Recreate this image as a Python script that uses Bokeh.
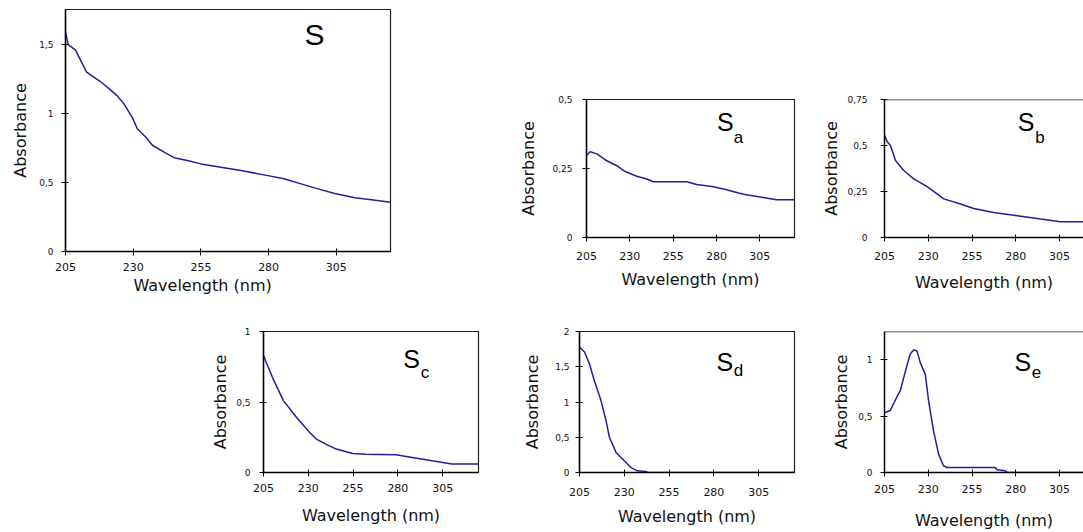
from bokeh.plotting import figure
from bokeh.layouts import row, column, Spacer
from bokeh.models import Range1d, FixedTicker, Label, Span, Title
from bokeh.embed import file_html
from bokeh.resources import INLINE

# ---------------- data ----------------
x_ticks = [205, 230, 255, 280, 305]

wl_S = [205, 206, 208.7, 212.8, 218, 221.7, 224, 226.6, 229.7, 231.5, 234.6, 237.1, 241.4,
        245.1, 250, 255, 262.4, 269.8, 279.7, 285.7, 292, 298.2, 304.4, 311.8, 318, 325]
abs_S = [1.59, 1.50, 1.46, 1.30, 1.23, 1.17, 1.13, 1.07, 0.97, 0.89, 0.83, 0.77, 0.72,
         0.68, 0.66, 0.635, 0.61, 0.587, 0.55, 0.527, 0.49, 0.454, 0.42, 0.39, 0.375, 0.357]

wl_Sa = [205, 207.1, 211, 216.7, 222.5, 227.3, 234, 239.8, 243.6, 262.8, 268.6, 278.2,
         285.8, 295.4, 306.9, 314.6, 325]
abs_Sa = [0.297, 0.311, 0.303, 0.278, 0.26, 0.239, 0.222, 0.212, 0.202, 0.202, 0.192, 0.184,
          0.173, 0.157, 0.145, 0.137, 0.137]

wl_Sb = [205, 206.5, 208.4, 211.3, 216, 221.7, 229.4, 238.9, 248.4, 256, 267.4, 280.8,
         294.2, 305.6, 314, 325]
abs_Sb = [0.555, 0.522, 0.50, 0.418, 0.364, 0.319, 0.277, 0.21, 0.182, 0.158, 0.136, 0.118,
          0.10, 0.086, 0.086, 0.086]

wl_Sc = [205, 206.9, 210.5, 216.1, 223.5, 230.8, 234.5, 240.1, 245.6, 254.8, 262.2, 278.8,
         288, 299.1, 310.2, 325]
abs_Sc = [0.83, 0.77, 0.66, 0.51, 0.39, 0.284, 0.237, 0.20, 0.166, 0.135, 0.13, 0.126,
          0.107, 0.083, 0.06, 0.06]

wl_Sd = [205, 207.8, 210.6, 213.3, 217, 219.8, 221.7, 225.4, 230, 233.7, 237.4, 242, 243, 325]
abs_Sd = [1.78, 1.71, 1.54, 1.30, 1.02, 0.735, 0.50, 0.285, 0.166, 0.07, 0.024, 0.014, 0.0, 0.0]

wl_Se = [205, 208.3, 211.1, 214, 216.8, 219.7, 221.6, 223.5, 225.4, 228.3, 230.2, 233,
         235.9, 238.7, 240.7, 268.3, 269.2, 274, 275, 325]
abs_Se = [0.53, 0.55, 0.64, 0.725, 0.89, 1.05, 1.086, 1.08, 0.976, 0.87, 0.636, 0.37,
          0.163, 0.06, 0.044, 0.044, 0.024, 0.015, 0.0, 0.0]

yticks_S = [0, 0.5, 1, 1.5];          ylabels_S = ["0", "0,5", "1", "1,5"]
yticks_Sa = [0, 0.25, 0.5];           ylabels_Sa = ["0", "0,25", "0,5"]
yticks_Sb = [0, 0.25, 0.5, 0.75];     ylabels_Sb = ["0", "0,25", "0,5", "0,75"]
yticks_Sc = [0, 0.5, 1];              ylabels_Sc = ["0", "0,5", "1"]
yticks_Sd = [0, 0.5, 1, 1.5, 2];      ylabels_Sd = ["0", "0,5", "1", "1,5", "2"]
yticks_Se = [0, 0.5, 1];              ylabels_Se = ["0", "0,5", "1"]

LINE = "#1f1f9e"
TFONT = "DejaVu Sans"
LFONT = "DejaVu Sans"
SFONT = "Liberation Sans"


def make(width, height, bl, bt, br, bb, xend, ymax, yticks, ylabels, wl, ab,
         xst, xlst, yst, ylst, cut=False, xlabel=True):
    p = figure(width=width, height=height, x_range=Range1d(205, xend),
               y_range=Range1d(0, ymax), output_backend="svg", toolbar_location=None,
               min_border_left=bl, min_border_top=bt, min_border_right=br,
               min_border_bottom=bb)
    p.grid.visible = False
    p.background_fill_color = "white"
    p.border_fill_color = "white"
    if cut:
        p.outline_line_color = None
        p.add_layout(Span(location=ymax, dimension="width", line_color="#222222",
                          line_width=1.5))
    else:
        p.outline_line_color = "#222222"
        p.outline_line_width = 1.2
    p.line(wl, ab, line_color=LINE, line_width=1.5)

    for ax in (p.xaxis[0], p.yaxis[0]):
        ax.axis_line_color = "black"
        ax.axis_line_width = 1.5
        ax.major_tick_in = 3
        ax.major_tick_out = 4
        ax.major_tick_line_color = "black"
        ax.minor_tick_line_color = None
        ax.major_label_text_font = TFONT
        ax.major_label_text_color = "#111111"
        ax.axis_label_text_font = LFONT
        ax.axis_label_text_font_size = "16px"
        ax.axis_label_text_font_style = "normal"
        ax.axis_label_text_color = "#111111"

    xa = p.xaxis[0]
    xa.ticker = FixedTicker(ticks=x_ticks)
    xa.major_label_text_font_size = "11px"
    xa.major_label_standoff = xst
    xa.axis_label_standoff = xlst
    if xlabel:
        xa.axis_label = "Wavelength (nm)"

    ya = p.yaxis[0]
    ya.ticker = FixedTicker(ticks=yticks)
    ya.major_label_text_font_size = "9px"
    ya.major_label_overrides = {t: l for t, l in zip(yticks, ylabels)}
    ya.major_label_standoff = yst
    ya.axis_label_standoff = ylst
    ya.axis_label = "Absorbance"
    return p


def name(p, sx, sy, size, sub=None, bx=None, by=None, subsize="17px"):
    p.add_layout(Label(x=sx, y=sy, text="S", text_font=SFONT, text_font_size=size,
                       text_align="center", text_baseline="alphabetic",
                       text_color="black"))
    if sub:
        p.add_layout(Label(x=bx, y=by, text=sub, text_font=SFONT, text_font_size=subsize,
                           text_align="left", text_baseline="alphabetic",
                           text_color="black"))


# ---- top part ----
pS = make(500, 310, 65, 9, 110, 59, 325, 1.754, yticks_S, ylabels_S, wl_S, abs_S,
          7, 6, 8, 6, xlabel=False)
tS = Title(text="Wavelength (nm)", align="left", offset=68, text_font=LFONT,
           text_font_size="16px", text_font_style="normal", text_color="#111111",
           standoff=0)
pS.add_layout(tS, "below")
name(pS, 296.9, 1.572, "30px")

pSa = make(315, 230, 86, 19, 21, 73, 325, 0.5, yticks_Sa, ylabels_Sa, wl_Sa, abs_Sa,
           10, 7, 10, 11)
name(pSa, 285.1, 0.420, "25px", "a", 289.9, 0.361)

pSb = make(268, 230, 69, 19, 0, 73, 318.7, 0.75, yticks_Sb, ylabels_Sb, wl_Sb, abs_Sb,
           10, 10, 13, 3, cut=True)
name(pSb, 285.9, 0.630, "25px", "b", 291.1, 0.546)

# ---- bottom row ----
pSc = make(320, 222, 63, 21, 42, 60, 325, 1.0, yticks_Sc, ylabels_Sc, wl_Sc, abs_Sc,
           7, 11, 9, 3)
name(pSc, 287.6, 0.808, "25px", "c", 292.7, 0.711)

pSd = make(295, 222, 58, 21, 21, 60, 325, 2.0, yticks_Sd, ylabels_Sd, wl_Sd, abs_Sd,
           11, 8, 6, 10)
name(pSd, 286.1, 1.570, "25px", "d", 291.1, 1.446)

pSe = make(268, 222, 69, 21, 0, 60, 318.7, 1.25, yticks_Se, ylabels_Se, wl_Se, abs_Se,
           8, 15, 8, 4, cut=True)
name(pSe, 284.0, 0.979, "25px", "e", 289.2, 0.893)

top = row(pS, column(Spacer(width=583, height=80), row(pSa, pSb, spacing=0), spacing=0),
          spacing=0)
bottom = row(Spacer(width=200, height=222), pSc, pSd, pSe, spacing=0)
layout = column(top, bottom, spacing=0)

open("out.html", "w").write(file_html(layout, INLINE))
